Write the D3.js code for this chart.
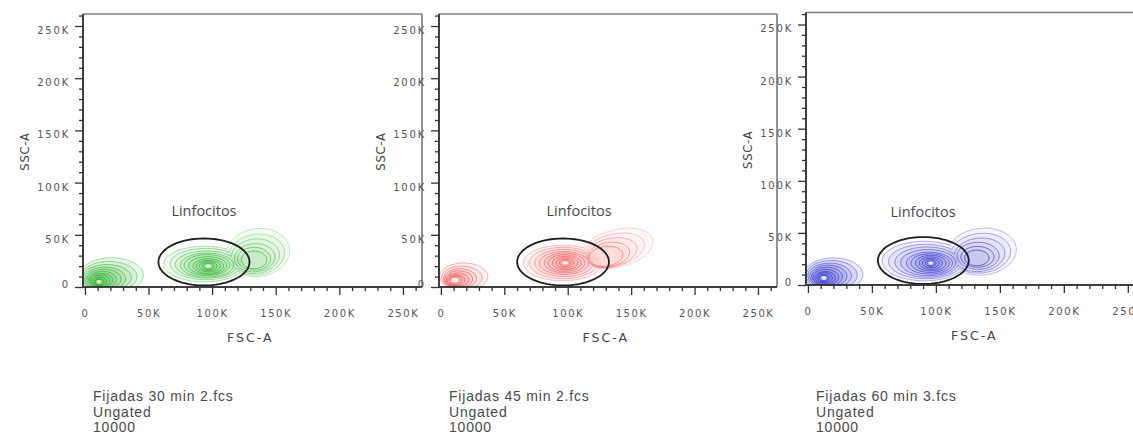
<!DOCTYPE html>
<html>
<head>
<meta charset="utf-8">
<script src="https://cdn.jsdelivr.net/npm/d3@7"></script>
<style>
  html, body { margin: 0; padding: 0; background: #fff; }
  svg { display: block; }
</style>
</head>
<body>
<div id="chart"></div>
<script>
// all FSC-A / SSC-A values are in thousands (K)
const sampleNames = ['Fijadas 30 min 2.fcs', 'Fijadas 45 min 2.fcs', 'Fijadas 60 min 3.fcs'];
const subsetNames = ['Ungated', 'Ungated', 'Ungated'];
const eventCounts = ['10000', '10000', '10000'];
const gateName = 'Linfocitos';
const xLabel = 'FSC-A';
const yLabel = 'SSC-A';
const xTicks = [0, 50, 100, 150, 200, 250];
const yTicks = [0, 50, 100, 150, 200, 250];
const panelColors = ['#2aae2a', '#ee4848', '#3434cc'];

// lymphocyte gate, per sample: [cx, cy, rx, ry]
const gates = [[93.6, 24, 35.8, 22.5], [96.3, 24, 36.2, 22.5], [90.2, 23.5, 35.5, 22.5]];
const gateLabelAt = [[93.6, 72.8], [108.9, 72.8], [90, 70.9]];

// contour rings, outer -> inner: [cx, cy, rx, ry, tilt°]
const debris30 = [[21, 11, 25, 17], [19, 10, 22, 14.5], [17.5, 9, 19, 12.5], [16, 8, 16, 11],
  [15, 7.5, 13.5, 9.5], [14, 7, 11, 8], [13, 6.5, 9, 6.5], [12.5, 6, 7, 5.5], [12, 5.5, 5, 4.2],
  [11.5, 5, 3.5, 3], [11, 5, 2, 1.8]];
const lymph30 = [[94, 22, 32, 17], [95, 22, 28, 15], [95.5, 21.5, 24.5, 13], [96, 21, 21, 11.5],
  [96, 21, 18, 10], [96.5, 20.5, 15, 8.5], [97, 20, 12, 7], [97, 20, 9.5, 5.5], [97, 20, 7, 4.2],
  [97, 20, 4.5, 3], [97, 20, 2.5, 1.8]];
const large30 = [[136, 33, 25, 23, -8], [135, 31, 22, 19.5, -8], [134, 29.5, 19, 16.5, -6],
  [133.5, 28, 16, 13.5, -4], [133, 27, 13, 11], [133, 26, 10, 8.5]];

const debris45 = [[18, 10, 19, 13], [16.5, 9, 16, 11], [15, 8, 13, 9.5], [14, 7.5, 11, 8],
  [13, 7, 9, 6.5], [12, 6.5, 7, 5.2], [11.5, 6.5, 5, 4], [11, 6.5, 3, 2.5]];
const lymph45 = [[96, 23, 31, 17], [96.5, 23, 27, 15], [97, 23, 23, 13], [97, 23, 19.5, 11],
  [97.5, 23, 16, 9.5], [97.5, 23, 13, 8], [98, 23, 10, 6.5], [98, 23, 7, 5], [98, 23, 4.5, 3.3],
  [98, 23, 2.5, 1.8]];
const large45 = [[139, 37, 29, 18, -14], [136, 35, 25, 15.5, -14], [134, 33, 21, 13.5, -12],
  [132, 31, 17, 11.5, -10], [130, 29.5, 13.5, 9.5, -8]];

const debris60 = [[20, 10, 23, 16], [18.5, 9.5, 20, 14], [17, 9, 17, 12], [16, 8.5, 14.5, 10.5],
  [15, 8, 12, 9], [14, 7.5, 10, 7.5], [13.5, 7, 8, 6], [13, 7, 6, 4.8], [12.5, 6.7, 4, 3.4],
  [12.5, 6.7, 2.2, 2]];
const lymph60 = [[91, 23, 33, 19], [92, 22.5, 29, 16.5], [93, 22, 25, 14.5], [94, 21.5, 21.5, 12.5],
  [95, 21, 18, 10.5], [95.5, 21, 15, 9], [96, 21, 12, 7.5], [96, 21, 9, 6], [96, 21, 6.5, 4.5],
  [96, 21, 4, 3], [96, 21, 2, 1.7]];
const large60 = [[136, 32, 27, 22.5, -6], [135, 30.5, 23.5, 19, -6], [134, 29, 20, 16, -6],
  [133, 28, 16.5, 13], [132.5, 27, 13, 10], [132, 26, 9.5, 7.5]];

const populations = [
  [debris30, lymph30, large30],
  [debris45, lymph45, large45],
  [debris60, lymph60, large60]
];
// how strongly each population is drawn (debris, lymphocytes, large cells)
const popStrength = [[1.4, 0.95, 0.65], [1, 0.85, 0.55], [1.5, 0.95, 0.75]];

// layout
const W = 1133, H = 434;
const frames = [
  { left: 83, width: 339, top: 14, bottom: 287 },
  { left: 439, width: 338, top: 14, bottom: 287 },
  { left: 806, width: 341, top: 12.5, bottom: 285 }
];

const svg = d3.select('#chart').append('svg').attr('width', W).attr('height', H);
const defs = svg.append('defs');
defs.append('filter').attr('id', 'soft').attr('x', '-5%').attr('y', '-5%')
  .attr('width', '110%').attr('height', '110%')
  .append('feGaussianBlur').attr('stdDeviation', 0.55);

const tickFont = 'DejaVu Sans, sans-serif';

function ringPath(r, x, y) {
  const [cx, cy, rx, ry, tilt = 0] = r;
  const pcx = x(cx), pcy = y(cy);
  const a = tilt * Math.PI / 180;
  const pts = d3.range(72).map(i => {
    const t = i / 72 * 2 * Math.PI;
    const dx = x(cx + rx * Math.cos(t)) - pcx;
    const dy = y(cy + ry * Math.sin(t)) - pcy;
    return [pcx + dx * Math.cos(a) - dy * Math.sin(a), pcy + dx * Math.sin(a) + dy * Math.cos(a)];
  });
  return d3.line().curve(d3.curveLinearClosed)(pts);
}

frames.forEach((f, pi) => {
  const x = d3.scaleLinear().domain([-1.5, 265]).range([f.left, f.left + f.width]);
  const y = d3.scaleLinear().domain([0, 261.5]).range([f.bottom, f.top]);
  const color = panelColors[pi];
  const g = svg.append('g');

  // clip to plot area
  const clipId = 'clip' + pi;
  defs.append('clipPath').attr('id', clipId).append('rect')
    .attr('x', f.left).attr('y', f.top).attr('width', f.width).attr('height', f.bottom - f.top);
  const plot = g.append('g').attr('clip-path', `url(#${clipId})`)
    .append('g').attr('filter', 'url(#soft)');

  const pops = populations[pi];
  // faint density shading
  pops.forEach((rings, k) => {
    rings.forEach(r => {
      plot.append('path').attr('d', ringPath(r, x, y))
        .attr('fill', color).attr('fill-opacity', 0.07 * popStrength[pi][k]).attr('stroke', 'none');
    });
  });
  // contour lines, merged where populations share a level
  pops.forEach((rings, k) => {
    const n = rings.length;
    const s = Math.min(1, popStrength[pi][k]);
    rings.forEach((r, i) => {
      const others = pops.filter((_, j) => j !== k).map(o => o[i]).filter(Boolean);
      const path = plot.append('path').attr('d', ringPath(r, x, y))
        .attr('fill', 'none').attr('stroke', color)
        .attr('stroke-width', 1)
        .attr('stroke-opacity', s * (0.4 + 0.6 * i / (n - 1)));
      if (others.length) {
        const mId = `m${pi}-${k}-${i}`;
        const m = defs.append('mask').attr('id', mId).attr('maskUnits', 'userSpaceOnUse')
          .attr('x', 0).attr('y', 0).attr('width', W).attr('height', H);
        m.append('rect').attr('width', W).attr('height', H).attr('fill', '#fff');
        others.forEach(o => m.append('path').attr('d', ringPath(o, x, y)).attr('fill', '#000'));
        path.attr('mask', `url(#${mId})`);
      }
    });
    // bright peak of the denser populations
    if (k < 2) {
      plot.append('path').attr('d', ringPath(rings[n - 1], x, y))
        .attr('fill', '#fff').attr('fill-opacity', 0.8).attr('stroke', 'none');
    }
  });

  // gate
  g.append('path').attr('d', ringPath(gates[pi], x, y))
    .attr('fill', 'none').attr('stroke', '#1e1e1e').attr('stroke-width', 1.8);
  g.append('text')
    .attr('x', x(gateLabelAt[pi][0])).attr('y', y(gateLabelAt[pi][1]))
    .attr('text-anchor', 'middle').attr('dominant-baseline', 'central')
    .attr('font-family', 'Open Sans, sans-serif').attr('font-size', '14.5px')
    .attr('fill', '#4a4a4a').text(gateName);

  // frame (top and right)
  g.append('line').attr('x1', f.left).attr('x2', f.left + f.width).attr('y1', f.top).attr('y2', f.top)
    .attr('stroke', '#808080').attr('stroke-width', 1.6);
  g.append('line').attr('x1', f.left + f.width).attr('x2', f.left + f.width)
    .attr('y1', f.top).attr('y2', f.bottom)
    .attr('stroke', '#707070').attr('stroke-width', 1.5);

  // y axis
  const yMinor = d3.range(0, 261, 10).filter(v => !yTicks.includes(v));
  const yAx = g.append('g').attr('transform', `translate(${f.left},0)`);
  yAx.append('g').call(d3.axisLeft(y).tickValues(yMinor).tickSize(4).tickSizeOuter(0).tickFormat(''));
  yAx.append('g').call(d3.axisLeft(y).tickValues(yTicks).tickSize(8).tickSizeOuter(0).tickPadding(5)
    .tickFormat(d => d === 0 ? '0' : d + 'K'));
  yAx.selectAll('.domain').attr('stroke', '#333').attr('stroke-width', 1.5)
    .attr('d', `M0,${f.top}V${f.bottom}`);
  yAx.selectAll('.tick line').attr('stroke', '#333').attr('stroke-width', 1.3);
  yAx.selectAll('.tick text')
    .attr('y', d => d === 0 ? -3 : 4).attr('dy', '0.35em')
    .attr('font-family', tickFont).attr('font-size', '10px').attr('letter-spacing', '1.8px')
    .attr('fill', '#555');

  // x axis
  const xMinor = d3.range(0, 261, 10).filter(v => !xTicks.includes(v));
  const xAx = g.append('g').attr('transform', `translate(0,${f.bottom})`);
  xAx.append('g').call(d3.axisBottom(x).tickValues(xMinor).tickSize(4).tickSizeOuter(0).tickFormat(''));
  xAx.append('g').call(d3.axisBottom(x).tickValues(xTicks).tickSize(8).tickSizeOuter(0)
    .tickFormat(d => d === 0 ? '0' : d + 'K'));
  xAx.selectAll('.domain').attr('stroke', '#333').attr('stroke-width', 1.5)
    .attr('d', `M${f.left},0H${f.left + f.width}`);
  xAx.selectAll('.tick line').attr('stroke', '#333').attr('stroke-width', 1.3);
  xAx.selectAll('.tick text')
    .attr('y', 26).attr('dy', '0.35em')
    .attr('font-family', tickFont).attr('font-size', '10px').attr('letter-spacing', '1.6px')
    .attr('fill', '#555');

  // axis titles
  g.append('text').attr('x', x(130)).attr('y', f.bottom + 50)
    .attr('text-anchor', 'middle').attr('dominant-baseline', 'central')
    .attr('font-family', tickFont).attr('font-size', '12.5px').attr('letter-spacing', '2px')
    .attr('fill', '#444').text(xLabel);
  g.append('text')
    .attr('transform', `translate(${f.left - 58},${(f.top + f.bottom) / 2 + 1}) rotate(-90)`)
    .attr('text-anchor', 'middle').attr('dominant-baseline', 'central')
    .attr('font-family', tickFont).attr('font-size', '11.5px').attr('letter-spacing', '0.8px')
    .attr('fill', '#444').text(yLabel);

  // sample caption
  const cap = g.append('g').attr('font-family', 'Liberation Sans, Arial, sans-serif')
    .attr('font-size', '14px').attr('letter-spacing', '0.8px').attr('fill', '#4a4a4a');
  [sampleNames[pi], subsetNames[pi], eventCounts[pi]].forEach((t, li) => {
    cap.append('text').attr('x', f.left + 10).attr('y', 396 + li * 15.5)
      .attr('dominant-baseline', 'central').text(t);
  });
});
</script>
</body>
</html>
